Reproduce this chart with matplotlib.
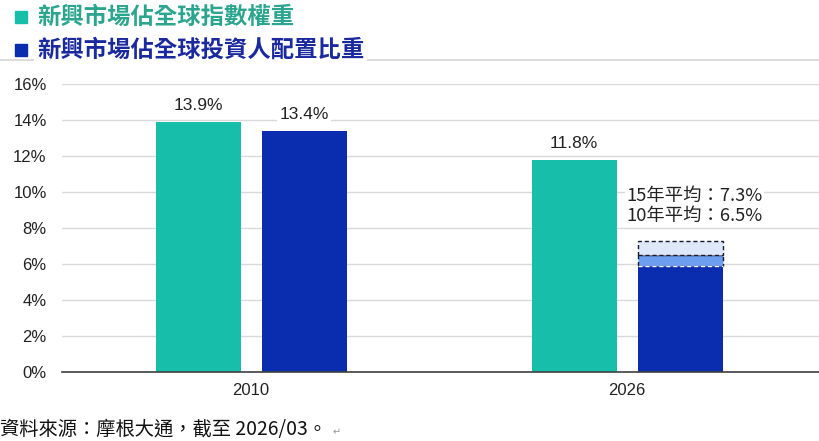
import matplotlib
matplotlib.use("Agg")
import matplotlib.pyplot as plt
from matplotlib.lines import Line2D
from matplotlib.patches import Rectangle

plt.rcParams['font.family'] = ['Noto Sans CJK TC', 'DejaVu Sans']

categories = ["2010", "2026"]
index_weight = [13.9, 11.8]
investor_alloc = [13.4, 5.9]
avg_15y = 7.3
avg_10y = 6.5
series_names = ["新興市場佔全球指數權重", "新興市場佔全球投資人配置比重"]
y_ticks = [0, 2, 4, 6, 8, 10, 12, 14, 16]
source_text = "資料來源：摩根大通，截至 2026/03。"

teal = "#17BFAB"
navy = "#0A2DAF"
mid_blue = "#6D9EF0"
light_blue = "#DDE8FA"
num_font = "Liberation Sans"

fig = plt.figure(figsize=(8.2, 4.41), dpi=100)
ax = fig.add_axes([62/820, (441-372)/441, 1 - 62/820, (372-84)/441])

x = list(range(len(categories)))
w = 0.226
off = 0.141

ax.bar([i - off for i in x], index_weight, width=w, color=teal, zorder=3)
ax.bar([i + off for i in x], investor_alloc, width=w, color=navy, zorder=3)

# 2026 averages (dashed boxes)
ax.bar(x[1] + off, avg_10y - investor_alloc[1], bottom=investor_alloc[1], width=w,
       color=mid_blue, edgecolor="#1a1a2e", linestyle=(0, (3, 2)), linewidth=1.0, zorder=3)
ax.bar(x[1] + off, avg_15y - avg_10y, bottom=avg_10y, width=w,
       color=light_blue, edgecolor="#1a1a2e", linestyle=(0, (3, 2)), linewidth=1.0, zorder=3)
ax.hlines(investor_alloc[1], x[1] + off - w/2, x[1] + off + w/2, colors="white",
          linestyles=(0, (3, 2)), linewidth=1.0, zorder=4)

ax.set_ylim(0, 16)
ax.set_xlim(-0.503, 1.513)
ax.set_yticks(y_ticks)
ax.set_yticklabels([f"{t}%" for t in y_ticks], fontsize=12, family=num_font, color="#222222")
ax.set_xticks(x)
ax.set_xticklabels(categories, fontsize=12, family=num_font, color="#222222")
ax.tick_params(length=0, pad=11)
ax.tick_params(axis='x', pad=8)
ax.yaxis.grid(True, color="#D9D9D9", linewidth=1.0, zorder=0)
ax.set_axisbelow(True)
for s in ["top", "right", "left"]:
    ax.spines[s].set_visible(False)
ax.spines["bottom"].set_color("#404040")
ax.spines["bottom"].set_linewidth(1.2)
ax.spines["bottom"].set_zorder(5)

# value labels
for i in x:
    ax.text(i - off, index_weight[i] + 0.5, f"{index_weight[i]}%", ha="center", va="bottom",
            fontsize=12.5, family=num_font, color="#222222", zorder=6,
            bbox=dict(facecolor="white", edgecolor="none", pad=1.5))
ax.text(x[0] + off, investor_alloc[0] + 0.5, f"{investor_alloc[0]}%", ha="center", va="bottom",
        fontsize=12.5, family=num_font, color="#222222", zorder=6,
        bbox=dict(facecolor="white", edgecolor="none", pad=1.5))

ax.text(x[1] + off - w/2 - 0.03, 10.3, f"15年平均：{avg_15y}%\n10年平均：{avg_10y}%",
        ha="left", va="top", fontsize=13.2, color="#222222", linespacing=1.2, zorder=6,
        bbox=dict(facecolor="white", edgecolor="none", pad=1))

# top border line
fig.add_artist(Line2D([0, 1], [1 - 60/441, 1 - 60/441], color="#D6D6D6", linewidth=1.2))

# legend
leg_colors = [teal, navy]
leg_text_colors = ["#2BA58E", "#1A2A9E"]
leg_y = [17, 50]
for name, c, tc, yy in zip(series_names, leg_colors, leg_text_colors, leg_y):
    fig.patches.append(Rectangle((15/820, 1 - (yy + 6)/441), 12/820, 12/441,
                                 transform=fig.transFigure, color=c, figure=fig))
    fig.text(37/820, 1 - yy/441, name, ha="left", va="center", fontsize=16.8,
             fontweight="bold", color=tc,
             bbox=dict(facecolor="white", edgecolor="none", pad=2))

# source
fig.text(0.5/820, 1 - 430/441, source_text, ha="left", va="center", fontsize=13.9, color="#111111")
fig.text(333/820, 1 - 432/441, "↵", ha="left", va="center", fontsize=7, color="#999999",
         family="DejaVu Sans")

fig.savefig("out.png", dpi=100, facecolor="white")
